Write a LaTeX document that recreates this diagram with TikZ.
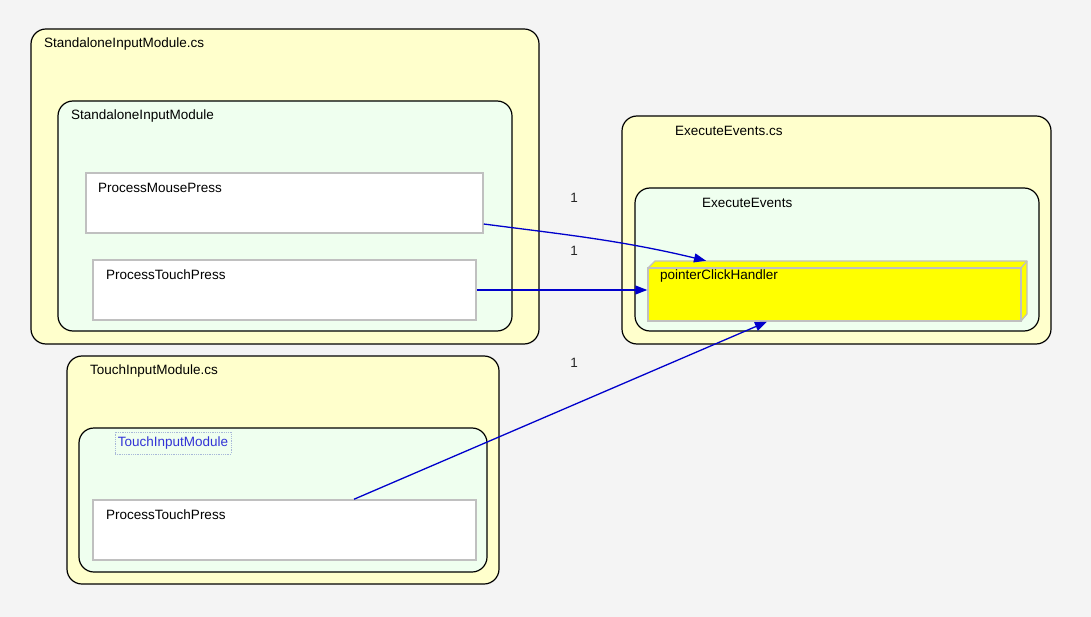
\documentclass[tikz,border=0pt]{standalone}
\usepackage{fontspec}
\setmainfont{Liberation Sans}
\usetikzlibrary{arrows.meta}
\definecolor{bgc}{HTML}{F4F4F4}
\definecolor{filec}{HTML}{FFFFCC}
\definecolor{classc}{HTML}{EFFFEF}
\definecolor{grayb}{HTML}{C0C0C0}
\definecolor{edgec}{HTML}{0000CC}
\definecolor{dotc}{HTML}{A8B8D8}
\definecolor{yel}{HTML}{FFFF00}
\begin{document}
\begin{tikzpicture}[x=1pt,y=-1pt,
  every node/.style={font=\fontsize{13.5}{16}\selectfont},
  filebox/.style={draw=black, line width=1.2pt, fill=filec, rounded corners=15pt, inner sep=0pt},
  classbox/.style={draw=black, line width=1.2pt, fill=classc, rounded corners=15pt, inner sep=0pt},
  membox/.style={draw=grayb, line width=1.5pt, fill=white, inner sep=0pt},
  txt/.style={anchor=west, inner sep=0pt, text=black},
  edge/.style={draw=edgec, line width=1.3pt, -{Stealth[length=12pt,width=9pt,inset=0pt]}},
  mult/.style={inner sep=0pt, text=black!85}]
\fill[bgc] (0,0) rectangle (1091,617);
\useasboundingbox (0,0) rectangle (1091,617);

% StandaloneInputModule.cs
\node[filebox, minimum width=508pt, minimum height=315pt] (sfile) at (285,186.5) {};
\node[txt] (sfilet) at (44,44) {StandaloneInputModule.cs};
\node[classbox, minimum width=454pt, minimum height=230pt] (sclass) at (285,216) {};
\node[txt] (sclasst) at (71,116) {StandaloneInputModule};
\node[membox, minimum width=397pt, minimum height=60pt] (pmp) at (284.5,203) {};
\node[txt] (pmpt) at (98,188) {ProcessMousePress};
\node[membox, minimum width=383pt, minimum height=60pt] (ptpa) at (284.5,290) {};
\node[txt] (ptpat) at (106,275) {ProcessTouchPress};

% ExecuteEvents.cs
\node[filebox, minimum width=429pt, minimum height=228pt] (efile) at (836.5,230) {};
\node[txt] (efilet) at (675,131) {ExecuteEvents.cs};
\node[classbox, minimum width=404pt, minimum height=143pt] (eclass) at (837,259.5) {};
\node[txt] (eclasst) at (702,203) {ExecuteEvents};
% 3D box
\fill[yel] (648,268) -- (655,261) -- (1027,261) -- (1027,314) -- (1021,321) -- (648,321) -- cycle;
\draw[grayb, line width=1.3pt, line join=round] (648,268) -- (655,261) -- (1027,261) -- (1027,314) -- (1021,321);
\draw[grayb, line width=1.3pt] (1021,268) -- (1027,261);
\node[membox, fill=yel, minimum width=373pt, minimum height=53pt] (pch) at (834.5,294.5) {};
\node[txt] (pcht) at (660,276) {pointerClickHandler};

% TouchInputModule.cs
\node[filebox, minimum width=432pt, minimum height=228pt] (tfile) at (283,470) {};
\node[txt] (tfilet) at (90,371) {TouchInputModule.cs};
\node[classbox, minimum width=408pt, minimum height=144pt] (tclass) at (283,500) {};
\node[draw=dotc, densely dotted, line width=0.8pt, minimum width=116pt, minimum height=22pt, inner sep=0pt, text=edgec!80!white] (tclasst) at (173,443) {TouchInputModule};
\node[membox, minimum width=383pt, minimum height=60pt] (ptpb) at (284.5,530) {};
\node[txt] (ptpbt) at (106,515) {ProcessTouchPress};

% edges
\coordinate (e1s) at ([yshift=-21pt]pmp.east);
\coordinate (e1t) at ([xshift=-128.5pt,yshift=6.5pt]pch.north);
\draw[edge] (e1s) .. controls (560,234) and (620,240) .. (e1t);
\draw[edge] (ptpa.east) -- (ptpa.east -| pch.west);
\coordinate (e3s) at ([xshift=69.5pt]ptpb.north);
\coordinate (e3t) at ([xshift=-67.5pt]pch.south);
\draw[edge] (e3s) -- (e3t);

\node[mult] (m1) at (574,198) {1};
\node[mult] (m2) at (574,251) {1};
\node[mult] (m3) at (574,363) {1};
\end{tikzpicture}
\end{document}
